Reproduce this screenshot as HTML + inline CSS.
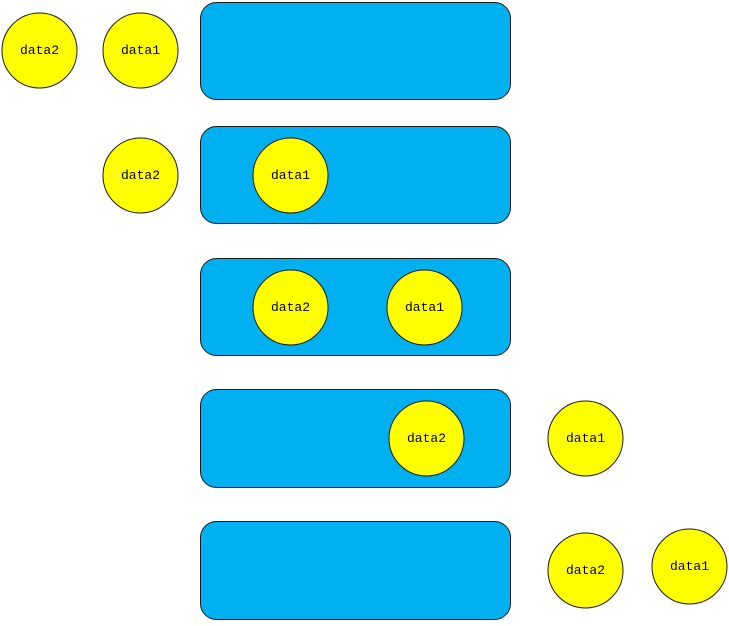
<!DOCTYPE html>
<html><head><meta charset="utf-8"><style>
html,body{margin:0;padding:0;background:#fff;}
svg text{font-family:"Liberation Mono","Noto Sans CJK SC",monospace;font-size:13px;}
</style></head><body>
<svg width="729" height="621" viewBox="0 0 729 621" xmlns="http://www.w3.org/2000/svg">
<g fill="#00B0F0" stroke="#1a1a1a" stroke-width="1">
<rect x="200.5" y="2.5" width="310" height="97" rx="16"/>
<rect x="200.5" y="126.5" width="310" height="97" rx="16"/>
<rect x="200.5" y="258.5" width="310" height="97" rx="16"/>
<rect x="200.5" y="389.5" width="310" height="98" rx="16"/>
<rect x="200.5" y="521.5" width="310" height="98" rx="16"/>
</g>
<g fill="#FFFF00" stroke="#1a1a1a" stroke-width="1">
<circle cx="39.5" cy="50.5" r="37.5"/>
<circle cx="140.5" cy="50.5" r="37.5"/>
<circle cx="140.5" cy="175.5" r="37.5"/>
<circle cx="290.5" cy="175.5" r="37.5"/>
<circle cx="290.5" cy="307.5" r="37.5"/>
<circle cx="424.5" cy="307.5" r="37.5"/>
<circle cx="426.5" cy="438.5" r="37.5"/>
<circle cx="585.5" cy="438.5" r="37.5"/>
<circle cx="585.5" cy="570.5" r="37.5"/>
<circle cx="689.5" cy="566.5" r="37.5"/>
</g>
<g fill="#000" text-anchor="middle" dominant-baseline="central">
<text x="39.5" y="50.5">data2</text>
<text x="140.5" y="50.5">data1</text>
<text x="140.5" y="175.5">data2</text>
<text x="290.5" y="175.5">data1</text>
<text x="290.5" y="307.5">data2</text>
<text x="424.5" y="307.5">data1</text>
<text x="426.5" y="438.5">data2</text>
<text x="585.5" y="438.5">data1</text>
<text x="585.5" y="570.5">data2</text>
<text x="689.5" y="566.5">data1</text>
</g>
</svg>
</body></html>
